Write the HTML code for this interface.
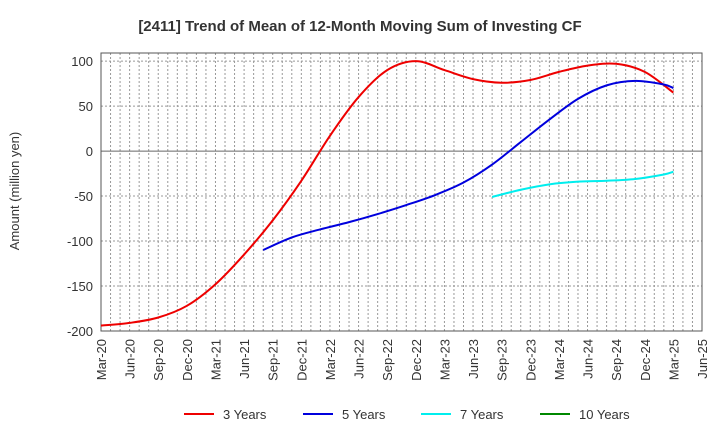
<!DOCTYPE html>
<html><head><meta charset="utf-8"><style>
body{margin:0;background:#fff;font-family:"Liberation Sans",Arial,sans-serif}
</style></head><body>
<svg id="c" width="720" height="440" xmlns="http://www.w3.org/2000/svg">
<text x="360" y="31" text-anchor="middle" font-size="15" font-weight="bold" fill="#333">[2411]  Trend of Mean of 12-Month Moving Sum of Investing CF</text>
<text transform="translate(19,191) rotate(-90)" text-anchor="middle" font-size="13" fill="#333">Amount (million yen)</text>
<g id="grid"></g><g id="axes"></g><g id="series"></g><g id="legend"></g>
</svg>
<script>
const xLabels=["Mar-20","Jun-20","Sep-20","Dec-20","Mar-21","Jun-21","Sep-21","Dec-21","Mar-22","Jun-22","Sep-22","Dec-22","Mar-23","Jun-23","Sep-23","Dec-23","Mar-24","Jun-24","Sep-24","Dec-24","Mar-25","Jun-25"];
const yTicks=[100,50,0,-50,-100,-150,-200];
const seriesNames=["3 Years","5 Years","7 Years","10 Years"];
const seriesColors=["#ee0000","#0000dd","#00eeee","#008800"];
// start month index (months since Mar-20); values every 3 months, last value at Mar-25
const s3StartMonth=0;
const s3=[-194,-191,-185,-172,-148,-115,-77,-33,17,60,90,100,90,80,76,79,88,95,97,88,65];
const s5StartMonth=17;
const s5=[-110,-96,-87,-79,-70,-60,-49,-35,-15,10,35,58,73,78,74,70];
const s7StartMonth=41;
const s7=[-51,-43,-37,-34,-33,-31,-26,-23];
const s10StartMonth=0;
const s10=[];
const endMonth=60;
const L=101,R=702,T=53,B=331,yMin=-200,yMax=109;
const months=(xLabels.length-1)*3;
const xm=m=>L+(R-L)*m/months;
const xq=i=>xm(i*3);
const y=v=>B-(v-yMin)/(yMax-yMin)*(B-T);
const NS="http://www.w3.org/2000/svg";
function mk(tag,attrs,parent){const e=document.createElementNS(NS,tag);for(const k in attrs)e.setAttribute(k,attrs[k]);parent.appendChild(e);return e;}
const grid=document.getElementById('grid'),axes=document.getElementById('axes'),ser=document.getElementById('series'),leg=document.getElementById('legend');
for(let m=1;m<months;m++){const g=mk('line',{x1:xm(m),x2:xm(m),y1:T,y2:B,stroke:'#999','stroke-width':1,'stroke-dasharray':'2,2'},grid);

}
yTicks.forEach(v=>{if(v===0||v===yMin)return;const g=mk('line',{x1:L,x2:R,y1:y(v),y2:y(v),stroke:'#999','stroke-width':1,'stroke-dasharray':'2,2'},grid);

});
const z=mk('line',{x1:L,x2:R,y1:y(0),y2:y(0),stroke:'#666','stroke-width':1},grid);


const fr=mk('rect',{x:L,y:T,width:R-L,height:B-T,fill:'none',stroke:'#555','stroke-width':1},axes);


yTicks.forEach(v=>{const t=mk('text',{x:L-8,y:y(v)+5,'text-anchor':'end','font-size':13,fill:'#333'},axes);t.textContent=v;

});
xLabels.forEach((lab,i)=>{const t=mk('text',{transform:`translate(${xq(i)+5},${B+8}) rotate(-90)`,'text-anchor':'end','font-size':13,fill:'#333'},axes);t.textContent=lab;

});
function path(start,vals){if(!vals.length)return '';const p=vals.map((v,i)=>[xm(Math.min(start+i*3,endMonth)),y(v)]);let d=`M${p[0][0]},${p[0][1]}`;
for(let i=0;i<p.length-1;i++){const p0=p[i-1]||p[i],p1=p[i],p2=p[i+1],p3=p[i+2]||p2;
d+=` C${p1[0]+(p2[0]-p0[0])/6},${p1[1]+(p2[1]-p0[1])/6} ${p2[0]-(p3[0]-p1[0])/6},${p2[1]-(p3[1]-p1[1])/6} ${p2[0]},${p2[1]}`;}return d;}
[[s3StartMonth,s3],[s5StartMonth,s5],[s7StartMonth,s7],[s10StartMonth,s10]].forEach(([st,v],k)=>{if(!v.length)return;const p=mk('path',{d:path(st,v),fill:'none',stroke:seriesColors[k],'stroke-width':2},ser);

});
const lx=[184,303,421,540];
seriesNames.forEach((n,k)=>{const g=mk('g',{},leg);


mk('line',{x1:lx[k],x2:lx[k]+30,y1:414,y2:414,stroke:seriesColors[k],'stroke-width':2},g);
const t=mk('text',{x:lx[k]+39,y:419,'font-size':13,fill:'#333'},g);t.textContent=n;});
</script>
</body></html>
